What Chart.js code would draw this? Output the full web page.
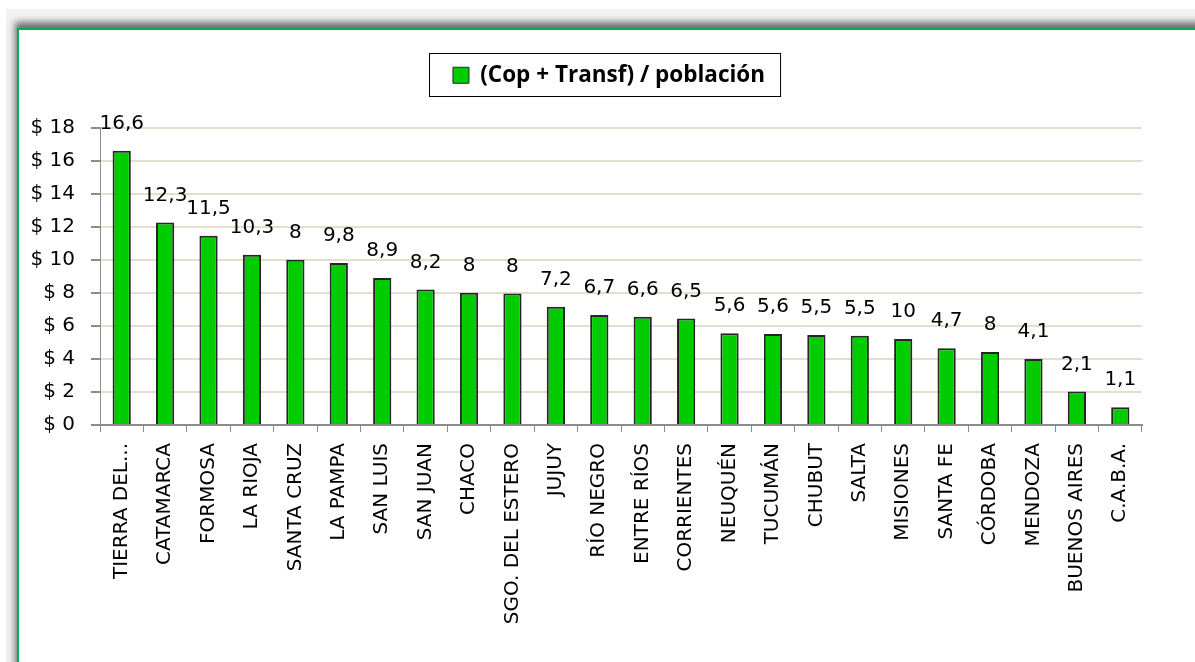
<!DOCTYPE html>
<html>
<head>
<meta charset="utf-8">
<script src="https://cdn.jsdelivr.net/npm/chart.js@4"></script>
<style>
	html, body { margin: 0; padding: 0; background: #fff; }
	body { width: 1195px; height: 662px; position: relative; overflow: hidden; }
	.backdrop { position: absolute; left: 6px; top: 9px; right: 0; bottom: 0; background: #f2f2f2; }
	.frame {
		position: absolute; left: 17px; top: 28px; width: 1300px; height: 800px;
		background: #fff; border-top: 2px solid #00b050; border-left: 2px solid #00b050;
		box-shadow: -2px -6px 7px rgba(0, 0, 0, 0.55);
	}
	#chartWrap { position: absolute; left: 0; top: 0; width: 1195px; height: 662px; }
</style>
</head>
<body>
<div class="backdrop"></div>
<div class="frame"></div>
<div id="chartWrap"><canvas id="barChart"></canvas></div>
<script>
const PROVINCES = [
	'TIERRA DEL FUEGO', 'CATAMARCA', 'FORMOSA', 'LA RIOJA', 'SANTA CRUZ', 'LA PAMPA',
	'SAN LUIS', 'SAN JUAN', 'CHACO', 'SGO. DEL ESTERO', 'JUJUY', 'RÍO NEGRO',
	'ENTRE RÍOS', 'CORRIENTES', 'NEUQUÉN', 'TUCUMÁN', 'CHUBUT', 'SALTA',
	'MISIONES', 'SANTA FE', 'CÓRDOBA', 'MENDOZA', 'BUENOS AIRES', 'C.A.B.A.',
];
const VALUES = [
	16.6, 12.25, 11.45, 10.3, 10.0, 9.8,
	8.9, 8.2, 8.0, 7.95, 7.15, 6.65,
	6.55, 6.45, 5.55, 5.5, 5.45, 5.4,
	5.2, 4.65, 4.42, 4.0, 2.02, 1.08,
];
// labels as printed on the original (some don't match bar height)
const VALUE_LABELS = [
	'16,6', '12,3', '11,5', '10,3', '8', '9,8',
	'8,9', '8,2', '8', '8', '7,2', '6,7',
	'6,6', '6,5', '5,6', '5,6', '5,5', '5,5',
	'10', '4,7', '8', '4,1', '2,1', '1,1',
];
const Y_TICKS = [0, 2, 4, 6, 8, 10, 12, 14, 16, 18];
const SERIES_NAME = '(Cop + Transf) / población';

const FONT = '"DejaVu Sans", sans-serif';
const AXIS_GRAY = '#8c8c8c';
const GRID_TAN = '#e3dfcc';
const LEGEND_SHIFT = { x: 28, y: -2 };

const barLabels = {
	id: 'barLabels',
	afterDatasetsDraw(chart) {
		const ctx = chart.ctx;
		const meta = chart.getDatasetMeta(0);
		ctx.save();
		ctx.font = '20px ' + FONT;
		ctx.fillStyle = '#000';
		ctx.textAlign = 'center';
		ctx.textBaseline = 'middle';
		meta.data.forEach((bar, i) => {
			ctx.fillText(VALUE_LABELS[i], bar.x, bar.y - 27);
		});
		ctx.restore();
	},
};

// extra room under the legend, nudge it right, and box it
const legendBox = {
	id: 'legendBox',
	beforeLayout(chart) {
		const legend = chart.legend;
		if (!legend || legend._patched) return;
		const fit = legend.fit;
		const draw = legend.draw;
		legend.fit = function () {
			fit.call(this);
			this.height += 29;
		};
		legend.draw = function () {
			const ctx = this.ctx;
			ctx.save();
			ctx.translate(LEGEND_SHIFT.x, LEGEND_SHIFT.y);
			draw.call(this);
			const hb = this.legendHitBoxes[0];
			if (hb) {
				ctx.strokeStyle = '#000';
				ctx.lineWidth = 1;
				ctx.strokeRect(
					Math.round(hb.left) - 23.5,
					Math.round(hb.top + hb.height / 2) - 21.5,
					hb.width + 39,
					43
				);
			}
			ctx.restore();
		};
		legend._patched = true;
	},
};

new Chart(document.getElementById('barChart'), {
	type: 'bar',
	data: {
		labels: PROVINCES,
		datasets: [
			{
				label: SERIES_NAME,
				data: VALUES,
				backgroundColor: '#00cc00',
				borderColor: '#262626',
				borderWidth: 2,
				barPercentage: 0.42,
				categoryPercentage: 1,
			},
		],
	},
	options: {
		responsive: true,
		maintainAspectRatio: false,
		animation: false,
		layout: {
			padding: { left: 20, right: 53, top: 46, bottom: 0 },
		},
		scales: {
			y: {
				min: 0,
				max: 18,
				afterBuildTicks: scale => {
					scale.ticks = Y_TICKS.map(v => ({ value: v }));
				},
				afterFit: scale => {
					scale.width = 80;
				},
				ticks: {
					callback: v => '$ ' + v,
					font: { family: FONT, size: 20 },
					color: '#000',
					padding: 16,
				},
				grid: {
					color: ctx => (ctx.tick && ctx.tick.value === 0 ? 'rgba(0,0,0,0)' : GRID_TAN),
					lineWidth: 2,
					tickColor: AXIS_GRAY,
					tickLength: 9,
				},
				border: { color: AXIS_GRAY, width: 1 },
			},
			x: {
				afterFit: scale => {
					scale.height = 662 - 425;
				},
				ticks: {
					minRotation: 90,
					maxRotation: 90,
					autoSkip: false,
					font: { family: FONT, size: 20 },
					color: '#000',
					padding: 11,
					callback: function (v) {
						const name = this.getLabelForValue(v);
						return name.length > 15 ? name.slice(0, 10) + '...' : name;
					},
				},
				grid: {
					drawOnChartArea: false,
					tickColor: AXIS_GRAY,
					tickLength: 7,
				},
				border: { color: AXIS_GRAY, width: 2 },
			},
		},
		plugins: {
			legend: {
				display: true,
				position: 'top',
				labels: {
					font: { family: '"Open Sans", sans-serif', size: 22.5, weight: 'bold' },
					color: '#000',
					boxWidth: 16,
					boxHeight: 16,
					padding: 20,
					generateLabels: chart => [
						{
							text: SERIES_NAME,
							fillStyle: '#00cc00',
							strokeStyle: '#262626',
							lineWidth: 1,
							datasetIndex: 0,
						},
					],
				},
			},
			tooltip: { enabled: false },
		},
	},
	plugins: [barLabels, legendBox],
});
</script>
</body>
</html>
